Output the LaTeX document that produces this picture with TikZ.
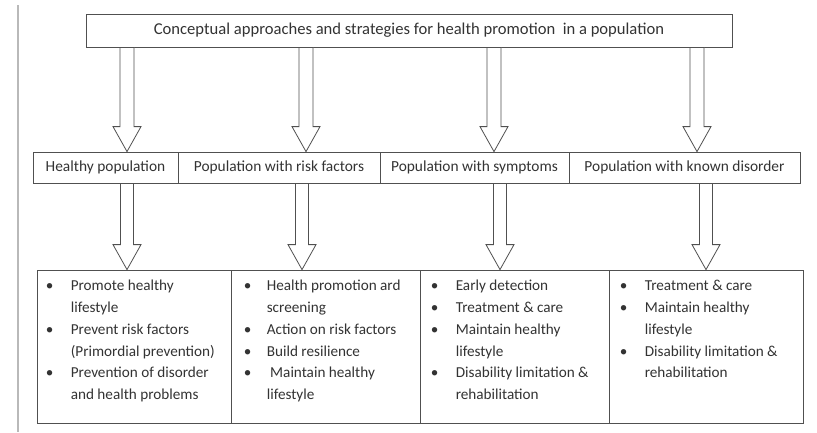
\documentclass[tikz,border=0pt]{standalone}
\usepackage{fontspec}
\setmainfont{Carlito}
\usetikzlibrary{calc}
\definecolor{frame}{HTML}{505050}
\definecolor{ink}{HTML}{333333}
\newcommand\fatarrow[4]{% #1 shaft start, #2 tip, #3 shaft half width, #4 head half width
  \draw[blockarrow] ($(#1)+(-#3,0)$) -- ($(#2)+(-#3,-25)$) -- ($(#2)+(-#4,-25)$) -- (#2)
    -- ($(#2)+(#4,-25)$) -- ($(#2)+(#3,-25)$) -- ($(#1)+(#3,0)$) -- cycle;}
\newcommand\itemrow[1]{\textbullet & #1\\}
\newcommand\controw[1]{& #1\\}
\begin{document}
\begin{tikzpicture}[x=1pt,y=-1pt,
  box/.style={draw=frame,line width=0.8pt,fill=white,inner sep=0pt,text=ink,
    font=\fontsize{15.4}{17}\selectfont},
  blockarrow/.style={draw=frame,line width=0.8pt,fill=white,line join=miter},
  listtext/.style={anchor=north west,inner sep=0pt,text=ink,
    font=\fontsize{15.2}{21.7}\selectfont}]
\useasboundingbox (0,0) rectangle (817,432);
% margin rule on the left
\draw[gray!55,line width=2.5pt] (18,5) -- (18,432);

% title
\node[box,minimum width=646,minimum height=33,font=\fontsize{16.6}{18}\selectfont] (top) at (409,30.5)
  {Conceptual approaches and strategies for health promotion\ \ in a population};

% population groups
\node[box,minimum width=145,minimum height=31] (p1) at (105.5,167.5) {Healthy population};
\node[box,minimum width=202,minimum height=31] (p2) at (279,167.5) {Population with risk factors};
\node[box,minimum width=189,minimum height=31] (p3) at (474.5,167.5) {Population with symptoms};
\node[box,minimum width=231,minimum height=31] (p4) at (684.5,167.5) {Population with known disorder};

% strategy boxes
\node[box,minimum width=194,minimum height=153] (b1) at (134,346.5) {};
\node[box,minimum width=189,minimum height=153] (b2) at (325.5,346.5) {};
\node[box,minimum width=189,minimum height=153] (b3) at (514.5,346.5) {};
\node[box,minimum width=194,minimum height=153] (b4) at (706,346.5) {};

\node[listtext] (t1) at ($(b1.north west)+(9,6)$) {%
  \begin{tabular}{@{}p{25pt}@{}l@{}}
  \itemrow{Promote healthy}\controw{lifestyle}
  \itemrow{Prevent risk factors}\controw{(Primordial prevention)}
  \itemrow{Prevention of disorder}\controw{and health problems}
  \end{tabular}};
\node[listtext] (t2) at ($(b2.north west)+(13,6)$) {%
  \begin{tabular}{@{}p{23pt}@{}l@{}}
  \itemrow{Health promotion ard}\controw{screening}
  \itemrow{Action on risk factors}
  \itemrow{Build resilience}
  \itemrow{\ Maintain healthy}\controw{lifestyle}
  \end{tabular}};
\node[listtext] (t3) at ($(b3.north west)+(11,6)$) {%
  \begin{tabular}{@{}p{25pt}@{}l@{}}
  \itemrow{Early detection}
  \itemrow{Treatment \& care}
  \itemrow{Maintain healthy}\controw{lifestyle}
  \itemrow{Disability limitation \&}\controw{rehabilitation}
  \end{tabular}};
\node[listtext] (t4) at ($(b4.north west)+(11,6)$) {%
  \begin{tabular}{@{}p{25pt}@{}l@{}}
  \itemrow{Treatment \& care}
  \itemrow{Maintain healthy}\controw{lifestyle}
  \itemrow{Disability limitation \&}\controw{rehabilitation}
  \end{tabular}};

% arrows from the title to the groups
\coordinate (s1) at (127,0 |- top.south);  \coordinate (e1) at (127,0 |- p1.north);
\coordinate (s2) at (306,0 |- top.south);  \coordinate (e2) at (306,0 |- p2.north);
\coordinate (s3) at (494,0 |- top.south);  \coordinate (e3) at (494,0 |- p3.north);
\coordinate (s4) at (697,0 |- top.south);  \coordinate (e4) at (697,0 |- p4.north);
\fatarrow{s1}{e1}{7}{14}
\fatarrow{s2}{e2}{7}{14}
\fatarrow{s3}{e3}{7}{14}
\fatarrow{s4}{e4}{7}{14}

% arrows from the groups to their strategies
\coordinate (u1) at (127,0 |- p1.south);  \coordinate (v1) at (127,0 |- b1.north);
\coordinate (u2) at (302,0 |- p2.south);  \coordinate (v2) at (302,0 |- b2.north);
\coordinate (u3) at (500,0 |- p3.south);  \coordinate (v3) at (500,0 |- b3.north);
\coordinate (u4) at (706,0 |- p4.south);  \coordinate (v4) at (706,0 |- b4.north);
\fatarrow{u1}{v1}{6.5}{14}
\fatarrow{u2}{v2}{6.5}{14}
\fatarrow{u3}{v3}{6.5}{14}
\fatarrow{u4}{v4}{6.5}{14}
\end{tikzpicture}
\end{document}
